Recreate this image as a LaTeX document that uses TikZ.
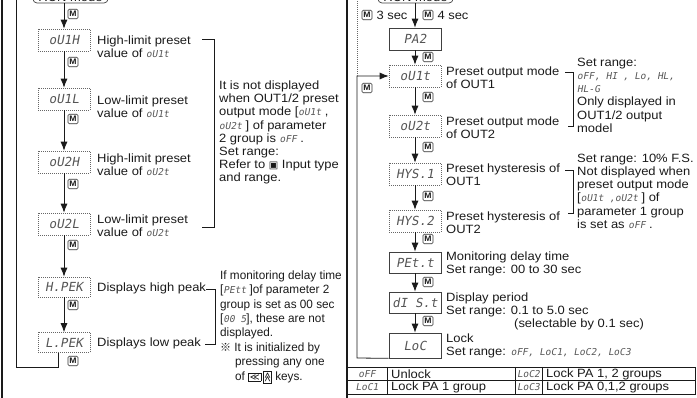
\documentclass[tikz,border=0pt]{standalone}
\usepackage{fontspec}
\usepackage{graphicx}
\setmainfont{Liberation Sans}[FakeStretch=1.08]
\newfontfamily\narrowfont{Liberation Sans}[FakeStretch=0.98]
\newfontfamily\segfont{DejaVu Sans Mono}[FakeSlant=0.18]
\newfontfamily\symfont{DejaVu Sans}
\newfontfamily\cjkfont{Noto Sans CJK SC}
\usetikzlibrary{arrows.meta,calc}
\definecolor{segc}{HTML}{555555}
\definecolor{inkc}{HTML}{1A1A1A}
\newcommand\seg[1]{{\segfont\fontsize{9.5}{9.5}\selectfont\color{segc}#1}}
\newcommand\keyicon[1]{{\setlength\fboxsep{0.8pt}\setlength\fboxrule{0.7pt}\fbox{\symfont\fontsize{9.5}{9.5}\selectfont#1}}}
\begin{document}
\begin{tikzpicture}[x=1pt,y=-1pt,
  font=\fontsize{12}{13}\selectfont,
  every node/.style={text=inkc},
  disp/.style={minimum width=52pt,minimum height=22pt,inner sep=0pt,font=\segfont\fontsize{12.5}{12.5}\selectfont,text=segc},
  dbox/.style={disp,draw=black!60,dash pattern=on 1pt off 1pt,line width=0.6pt},
  sbox/.style={disp,draw=black!75,line width=0.7pt},
  runbox/.style={draw=black!75,line width=0.7pt,rounded corners=4pt,minimum width=75pt,minimum height=24pt},
  mkey/.style={draw=black!80,line width=0.6pt,rounded corners=1.2pt,inner sep=0pt,minimum width=10pt,minimum height=9.5pt,font=\bfseries\fontsize{8}{8}\selectfont},
  flow/.style={draw=inkc,line width=0.8pt,-{Latex[length=9pt,width=7pt]}},
  wire/.style={draw=inkc,line width=0.7pt},
  dotwire/.style={draw=black!60,line width=0.6pt,dash pattern=on 1pt off 1pt},
  lbl/.style={anchor=west,align=left,inner sep=0pt,font=\fontsize{12}{13}\selectfont},
  blk/.style={anchor=north west,align=left,inner sep=0pt,font=\fontsize{12}{13.2}\selectfont},
  frame/.style={draw=inkc,line width=2.4pt},
  cell/.style={inner sep=0pt,font=\fontsize{12}{12}\selectfont}
]
\path[use as bounding box] (0,0) rectangle (697,398);
\clip (0,0) rectangle (697,398);

% frame lines
\draw[frame] (2,-5) -- (2,405);
\draw[frame] (347,-5) -- (347,405);

% ---------------- left column ----------------
\node[runbox] (runL) at (70.5,-9) {};
\node[anchor=base] (runLt) at (70.5,1.2) {RUN mode};
\node[dbox] (u1h) at (64,40) {oU1H};
\node[dbox] (u1l) at (64,99) {oU1L};
\node[dbox] (u2h) at (64,162) {oU2H};
\node[dbox] (u2l) at (64,224) {oU2L};
\node[dbox,minimum height=20pt] (hpk) at (64,287) {H.PEK};
\node[dbox,minimum height=20pt] (lpk) at (64,342.5) {L.PEK};

\draw[flow] (runL.south -| u1h.north) -- (u1h.north);
\draw[flow] (u1h.south) -- (u1l.north);
\draw[flow] (u1l.south) -- (u2h.north);
\draw[flow] (u2h.south) -- (u2l.north);
\draw[flow] (u2l.south) -- (hpk.north);
\draw[flow] (hpk.south) -- (lpk.north);
\coordinate (lpa) at ($(lpk.south)+(-6,0)$);
\coordinate (lpb) at (58,367);
\coordinate (lpc) at (16,367);
\coordinate (lpd) at (16,-25);
\draw[wire] (lpa) -- (lpb) -- (lpc) -- (lpd);

\node[mkey] (mL0) at (73,14) {M};
\node[mkey] (mL1) at (73,62) {M};
\node[mkey] (mL2) at (73,119) {M};
\node[mkey] (mL3) at (73,184) {M};
\node[mkey] (mL4) at (73,245) {M};
\node[mkey] (mL5) at (73,305) {M};
\node[mkey] (mL6) at (73,361) {M};

\node[lbl] (lu1h) at (97,46.5) {High-limit preset\\value of \seg{oU1t}};
\node[lbl] (lu1l) at (97,106.5) {Low-limit preset\\value of \seg{oU1t}};
\node[lbl] (lu2h) at (97,164.5) {High-limit preset\\value of \seg{oU2t}};
\node[lbl] (lu2l) at (97,226) {Low-limit preset\\value of \seg{oU2t}};
\node[lbl] (lhpk) at (97,288) {Displays high peak};
\node[lbl] (llpk) at (97,343) {Displays low peak};

\draw[wire] (202,39) -- (214,39) -- (214,227) -- (202,227);
\draw[wire] (206,289) -- (215,289) -- (215,344) -- (205,344);

\node[blk] (b1) at (219,80.7) {It is not displayed\\
when OUT1/2 preset\\
output mode [\seg{oU1t} ,\\
\seg{oU2t} ] of parameter\\
2 group is \seg{oFF} .\\
Set range:\\
Refer to {\symfont\fontsize{10}{10}\selectfont ▣} Input type\\
and range.};

\node[blk,font=\narrowfont\fontsize{12}{14.4}\selectfont] (b2) at (220,270.5) {If monitoring delay time\\
{[}\seg{PEtt} ]of parameter 2\\
group is set as 00 sec\\
{[}\seg{00 5}], these are not\\
displayed.\\
{\cjkfont\fontsize{11}{11}\selectfont ※} It is initialized by\\
\hspace*{15pt}pressing any one\\
\hspace*{15pt}of \keyicon{≪}\,\keyicon{\rotatebox[origin=c]{-90}{≪}} keys.};

% ---------------- right column ----------------
\node[runbox] (runR) at (415.5,-9) {};
\node[anchor=base] (runRt) at (415.5,1.2) {RUN mode};
\node[sbox] (pa2) at (415,39) {PA2};
\node[dbox] (ou1) at (415,76) {oU1t};
\node[dbox] (ou2) at (415,126) {oU2t};
\node[dbox] (hy1) at (415,174) {HYS.1};
\node[dbox] (hy2) at (415,221) {HYS.2};
\node[sbox,minimum height=21pt] (pet) at (415,262.5) {PEt.t};
\node[sbox,minimum height=21pt] (dis) at (415,302.5) {dI S.t};
\node[sbox,minimum height=25pt] (loc) at (415,345.5) {LoC};

\draw[flow] (runR.south -| pa2.north) -- (pa2.north);
\draw[flow] (pa2.south) -- (ou1.north);
\draw[flow] (ou1.south) -- (ou2.north);
\draw[flow] (ou2.south) -- (hy1.north);
\draw[flow] (hy1.south) -- (hy2.north);
\draw[flow] (hy2.south) -- (pet.north);
\draw[flow] (pet.south) -- (dis.north);
\draw[flow] (dis.south) -- (loc.north);

\coordinate (lr1) at (357,358);
\coordinate (lr2) at (357,76);
\coordinate (lr3) at (357,-5);
\draw[flow] (loc.south west) -- (lr1) -- (lr2) -- (ou1.west);
\draw[dotwire] (lr2) -- (lr3);

\node[mkey] (m3) at (367,15) {M};
\node[anchor=west,inner sep=0pt] (s3) at ([xshift=4pt]m3.east) {3 sec};
\node[mkey] (m4) at (428,15) {M};
\node[anchor=west,inner sep=0pt] (s4) at ([xshift=4pt]m4.east) {4 sec};
\node[mkey] (mR1) at (428,57) {M};
\node[mkey] (mR2) at (428,97) {M};
\node[mkey] (mR3) at (428,147) {M};
\node[mkey] (mR4) at (428,196) {M};
\node[mkey] (mR5) at (428,239) {M};
\node[mkey] (mR6) at (428,282) {M};
\node[mkey] (mR7) at (428,321) {M};
\node[mkey] (mLp) at (367,88) {M};

\node[lbl] (lou1) at (446,78) {Preset output mode\\of OUT1};
\node[lbl] (lou2) at (446,128) {Preset output mode\\of OUT2};
\node[lbl] (lhy1) at (446,175) {Preset hysteresis of\\OUT1};
\node[lbl] (lhy2) at (446,223) {Preset hysteresis of\\OUT2};
\node[lbl] (lpet) at (446,264) {Monitoring delay time\\Set range: 00 to 30 sec};
\node[lbl] (ldis) at (446,311) {Display period\\Set range: 0.1 to 5.0 sec\\\hspace*{68pt}(selectable by 0.1 sec)};
\node[lbl] (lloc) at (446,346) {Lock\\Set range: \seg{oFF, LoC1, LoC2, LoC3}};

\draw[wire] (565,72) -- (573,72) -- (573,126) -- (568,126);
\draw[wire] (565,170) -- (573,170) -- (573,213) -- (568,213);

\node[blk] (b3) at (577,57.7) {Set range:\\
\seg{oFF, HI , Lo, HL,}\\
\seg{HL-G}\\
Only displayed in\\
OUT1/2 output\\
model};

\node[blk] (b4) at (577,153.7) {Set range: 10\% F.S.\\
Not displayed when\\
preset output mode\\
{[}\seg{oU1t ,oU2t} ] of\\
parameter 1 group\\
is set as \seg{oFF} .};

% ---------------- table ----------------
\draw[wire] (347,367) rectangle (695,394);
\draw[wire] (347,380.5) -- (695,380.5);
\draw[wire] (387,367) -- (387,394);
\draw[wire] (515,367) -- (515,394);
\draw[wire] (542,367) -- (542,394);
\node[cell] (c11) at (367,374) {\seg{oFF}};
\node[cell,anchor=west] (c12) at (391,374) {Unlock};
\node[cell] (c13) at (528.5,374) {\seg{LoC2}};
\node[cell,anchor=west] (c14) at (546,374) {Lock PA 1, 2 groups};
\node[cell] (c21) at (367,387.5) {\seg{LoC1}};
\node[cell,anchor=west] (c22) at (391,387.5) {Lock PA 1 group};
\node[cell] (c23) at (528.5,387.5) {\seg{LoC3}};
\node[cell,anchor=west] (c24) at (546,387.5) {Lock PA 0,1,2 groups};
\end{tikzpicture}
\end{document}
